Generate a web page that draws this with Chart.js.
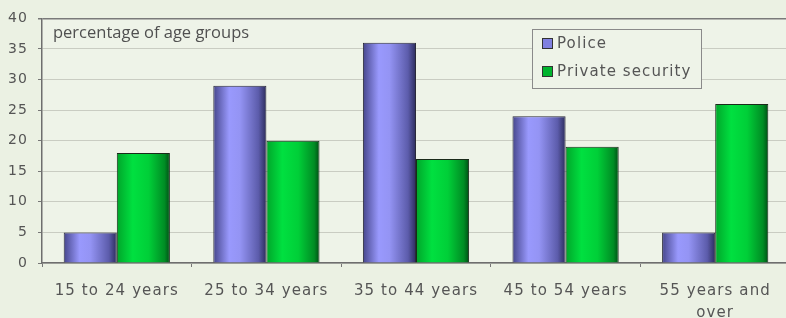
<!DOCTYPE html>
<html>
<head>
<meta charset="utf-8">
<script src="https://cdn.jsdelivr.net/npm/chart.js@4/dist/chart.umd.min.js"></script>
<style>
    html, body { margin: 0; padding: 0; background: #ebf1e3; overflow: hidden; }
    #wrap { position: relative; width: 800px; height: 318px; }
    #ageChart { display: block; width: 800px; height: 318px; }
</style>
</head>
<body>
<div id="wrap"><canvas id="ageChart" width="800" height="318"></canvas></div>
<script>
// chart data
const ageGroups = ['15 to 24 years', '25 to 34 years', '35 to 44 years', '45 to 54 years', ['55 years and', 'over']];
const policeValues = [5, 29, 36, 24, 5];
const privateValues = [18, 20, 17, 19, 26];
const yTicks = [0, 5, 10, 15, 20, 25, 30, 35, 40];
const seriesNames = ['Police', 'Private security'];
const subtitleText = 'percentage of age groups';

const policeStops = [[0, '#46468c'], [0.3, '#9999fd'], [0.5, '#9494f4'], [0.85, '#5c5cab'], [1, '#2c2c5c']];
const greenStops = [[0, '#00a52a'], [0.3, '#00e040'], [0.6, '#00cf38'], [0.9, '#008c24'], [1, '#004e14']];

// the old chart text is spaced out a little (Verdana look)
const wideText = {
    id: 'wideText',
    beforeDraw(chart) {
        chart.ctx.letterSpacing = '1.1px';
    }
};

// paint each bar with a horizontal gradient, like the old office charts
const barShading = {
    id: 'barShading',
    beforeDatasetsDraw(chart) {
        const ctx = chart.ctx;
        chart.data.datasets.forEach((ds, i) => {
            const stops = i === 0 ? policeStops : greenStops;
            chart.getDatasetMeta(i).data.forEach(bar => {
                const left = bar.x - bar.width / 2;
                const g = ctx.createLinearGradient(left, 0, left + bar.width, 0);
                stops.forEach(s => g.addColorStop(s[0], s[1]));
                // options are shared between bars, so give each bar its own copy
                bar.options = Object.assign({}, bar.options, { backgroundColor: g });
            });
        });
    }
};

// plot background, caption and boxed legend
const decorations = {
    id: 'decorations',
    beforeDraw(chart) {
        const a = chart.chartArea;
        const ctx = chart.ctx;
        ctx.save();
        ctx.fillStyle = '#eef3e8';
        ctx.fillRect(a.left, a.top, a.right - a.left, a.bottom - a.top);
        ctx.restore();
    },
    afterDraw(chart) {
        const ctx = chart.ctx;
        ctx.save();
        ctx.letterSpacing = '0px';
        ctx.fillStyle = '#505050';
        ctx.font = '16.5px "Open Sans"';
        ctx.textBaseline = 'alphabetic';
        ctx.fillText(subtitleText, 53, 38);

        // legend box
        ctx.fillStyle = '#eef3e8';
        ctx.fillRect(532.5, 29.5, 169, 59);
        ctx.strokeStyle = '#8a8a8a';
        ctx.lineWidth = 1;
        ctx.strokeRect(532.5, 29.5, 169, 59);
        const swatch = ['#8080e0', '#00b42e'];
        const rowY = [43.5, 71.5];
        ctx.letterSpacing = '1.1px';
        ctx.font = '15px "DejaVu Sans"';
        ctx.textBaseline = 'middle';
        seriesNames.forEach((name, i) => {
            ctx.fillStyle = swatch[i];
            ctx.fillRect(542.5, rowY[i] - 5, 10, 10);
            ctx.strokeStyle = '#333';
            ctx.strokeRect(542.5, rowY[i] - 5, 10, 10);
            ctx.fillStyle = '#555';
            ctx.fillText(name, 557, rowY[i] + 1);
        });
        ctx.restore();
    }
};

const ctx = document.getElementById('ageChart').getContext('2d');
const ageChart = new Chart(ctx, {
    type: 'bar',
    data: {
        labels: ageGroups,
        datasets: [{
            label: seriesNames[0],
            data: policeValues,
            backgroundColor: '#8c8cf0',
            borderColor: '#2a2a3a',
            borderWidth: 1,
            borderSkipped: 'bottom',
            categoryPercentage: 0.71,
            barPercentage: 1
        }, {
            label: seriesNames[1],
            data: privateValues,
            backgroundColor: '#00c832',
            borderColor: '#1a2a1a',
            borderWidth: 1,
            borderSkipped: 'bottom',
            categoryPercentage: 0.71,
            barPercentage: 1
        }]
    },
    options: {
        responsive: false,
        animation: false,
        devicePixelRatio: 1,
        layout: { padding: { left: 0, top: 18, right: 10, bottom: 0 } },
        plugins: {
            legend: { display: false },
            tooltip: { enabled: false }
        },
        scales: {
            x: {
                afterFit: scale => { scale.height = 55; },
                grid: { drawOnChartArea: false, drawTicks: true, tickLength: 4, color: '#777', offset: true },
                border: { color: '#6e6e6e', width: 1.5 },
                ticks: {
                    padding: 13,
                    color: '#555',
                    font: { family: 'DejaVu Sans', size: 15, lineHeight: 1.45 },
                    maxRotation: 0,
                    autoSkip: false
                }
            },
            y: {
                min: 0,
                max: 40,
                afterFit: scale => { scale.width = 42; },
                afterBuildTicks: scale => { scale.ticks = yTicks.map(v => ({ value: v })); },
                grid: {
                    color: c => c.tick && c.tick.value === 40 ? '#7a7a7a' : '#c9ccc2',
                    lineWidth: c => c.tick && c.tick.value === 40 ? 1.5 : 1,
                    tickColor: '#777',
                    tickLength: 4
                },
                border: { color: '#6e6e6e', width: 1.5 },
                ticks: {
                    padding: 10,
                    color: '#555',
                    font: { family: 'DejaVu Sans', size: 14 }
                }
            }
        }
    },
    plugins: [wideText, barShading, decorations]
});
</script>
</body>
</html>
